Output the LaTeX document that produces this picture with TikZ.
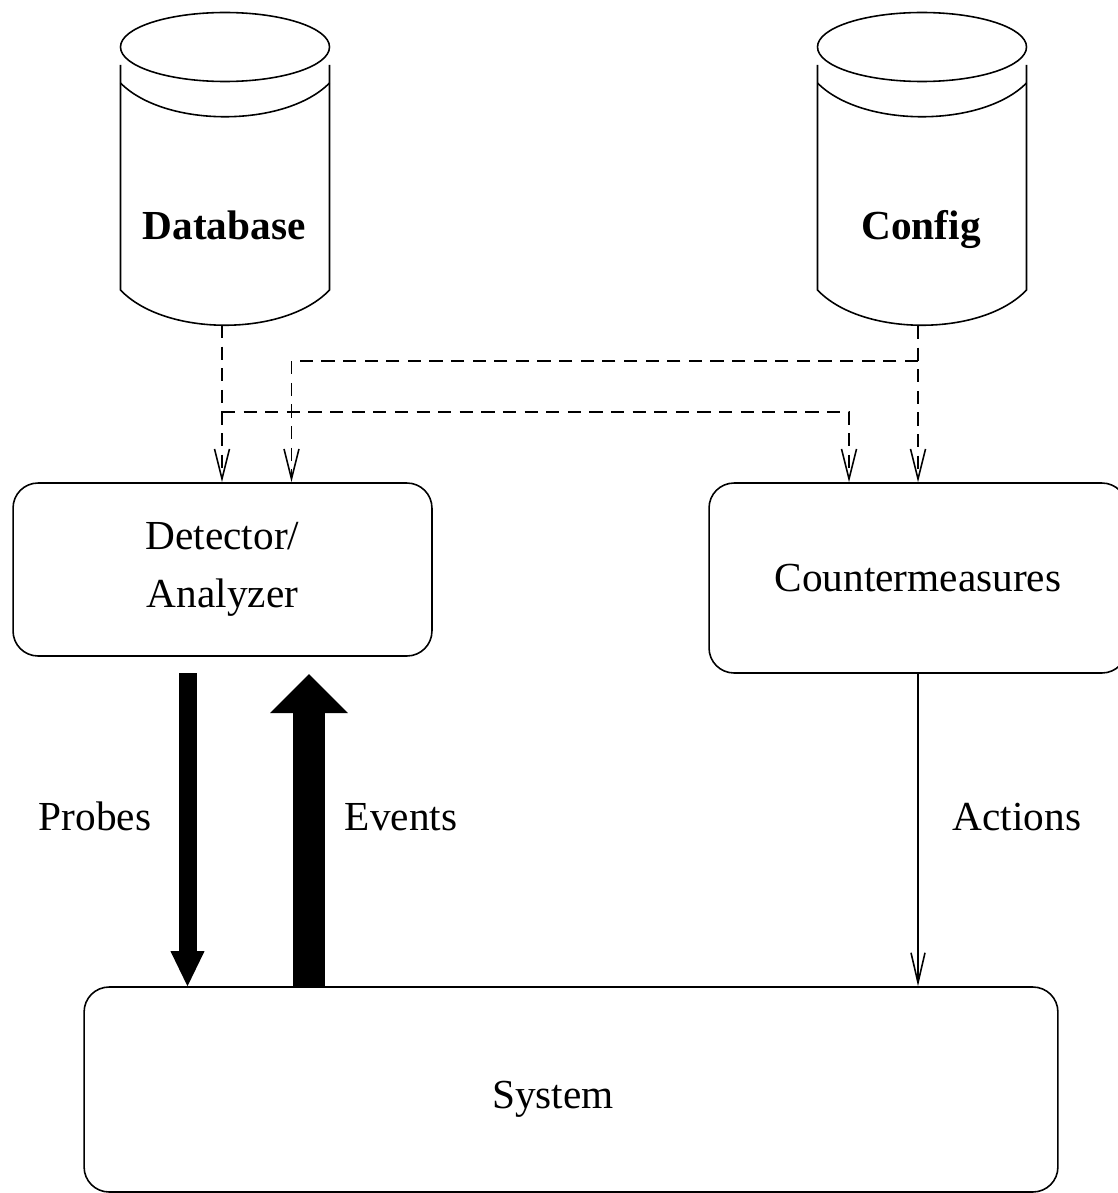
\documentclass[tikz,border=0pt]{standalone}
\usepackage{fontspec}
\setmainfont{Liberation Serif}
\usetikzlibrary{arrows.meta, positioning, calc}

\begin{document}
\begin{tikzpicture}[
  x=0.02cm, y=-0.02cm,
  line width=0.9pt,
  font=\fontsize{23.5}{33}\selectfont,
  procbox/.style={draw, rounded corners=0.5cm, align=center, inner sep=0pt},
  storelabel/.style={font=\fontsize{23.5}{33}\selectfont\bfseries, anchor=base},
  flowlabel/.style={anchor=base},
  dataflow/.style={dash pattern=on 7.5pt off 4.8pt, -{Straight Barb[length=0.6cm, width=0.3cm]}},
  ctrlflow/.style={-{Straight Barb[length=0.6cm, width=0.28cm]}},
  probeflow/.style={line width=0.36cm, -{Triangle[length=0.7cm, width=0.68cm, line width=0pt]}},
  eventflow/.style={line width=0.64cm, -{Triangle[length=0.78cm, width=1.56cm, line width=0pt]}}
]
\useasboundingbox (0,0) rectangle (1117,1193);

% stores
\node[storelabel] (db)  at (224,239) {Database};
\node[storelabel] (cfg) at (921,239) {Config};

% drum outlines
\draw (225,47) ellipse [x radius=104.5, y radius=34.5];
\draw (120.5,65) -- (120.5,290) .. controls (165,337) and (285,337) .. (329.5,290) -- (329.5,65);
\draw (120.5,83) .. controls (165,128) and (285,128) .. (329.5,83);
\draw (922,47) ellipse [x radius=104.5, y radius=34.5];
\draw (817.5,65) -- (817.5,290) .. controls (862,337) and (982,337) .. (1026.5,290) -- (1026.5,65);
\draw (817.5,83) .. controls (862,128) and (982,128) .. (1026.5,83);
\coordinate (dbout)  at (222,325);
\coordinate (cfgout) at (918,326);

% boxes
\node[procbox, minimum width=8.38cm, minimum height=3.46cm] (det) at (222.5,569.5) {Detector/\\Analyzer};
\node[procbox, minimum width=8.36cm, minimum height=3.8cm] (counter) at (918,578) {Countermeasures};
\node[procbox, minimum width=19.48cm, minimum height=4.1cm] (sys) at (571,1089.5) {};
\node[flowlabel] (systxt) at (553,1108) {System};

% dashed feeds
\coordinate (dbtap)  at (222,412);
\coordinate (cfgtap) at (918,361);
\draw[dataflow] (dbout) -- (dbout |- det.north);
\draw[dataflow] (cfgout) -- (cfgout |- counter.north);
\draw[dataflow] (dbtap) -| ($(counter.north)+(-69,0)$);
\draw[dataflow] (cfgtap) -| ($(det.north)+(69,0)$);

% probes, events, actions
\coordinate (probesrc) at (187.5,673);
\coordinate (eventtip) at (309,674);
\draw[probeflow] (probesrc) -- (probesrc |- sys.north);
\draw[eventflow] (eventtip |- sys.north) -- (eventtip);
\draw[ctrlflow] (counter.south) -- (counter.south |- sys.north);

\node[flowlabel] (probes)  at (95,830)   {Probes};
\node[flowlabel] (events)  at (401,830)  {Events};
\node[flowlabel] (actions) at (1017,830) {Actions};

\end{tikzpicture}
\end{document}
